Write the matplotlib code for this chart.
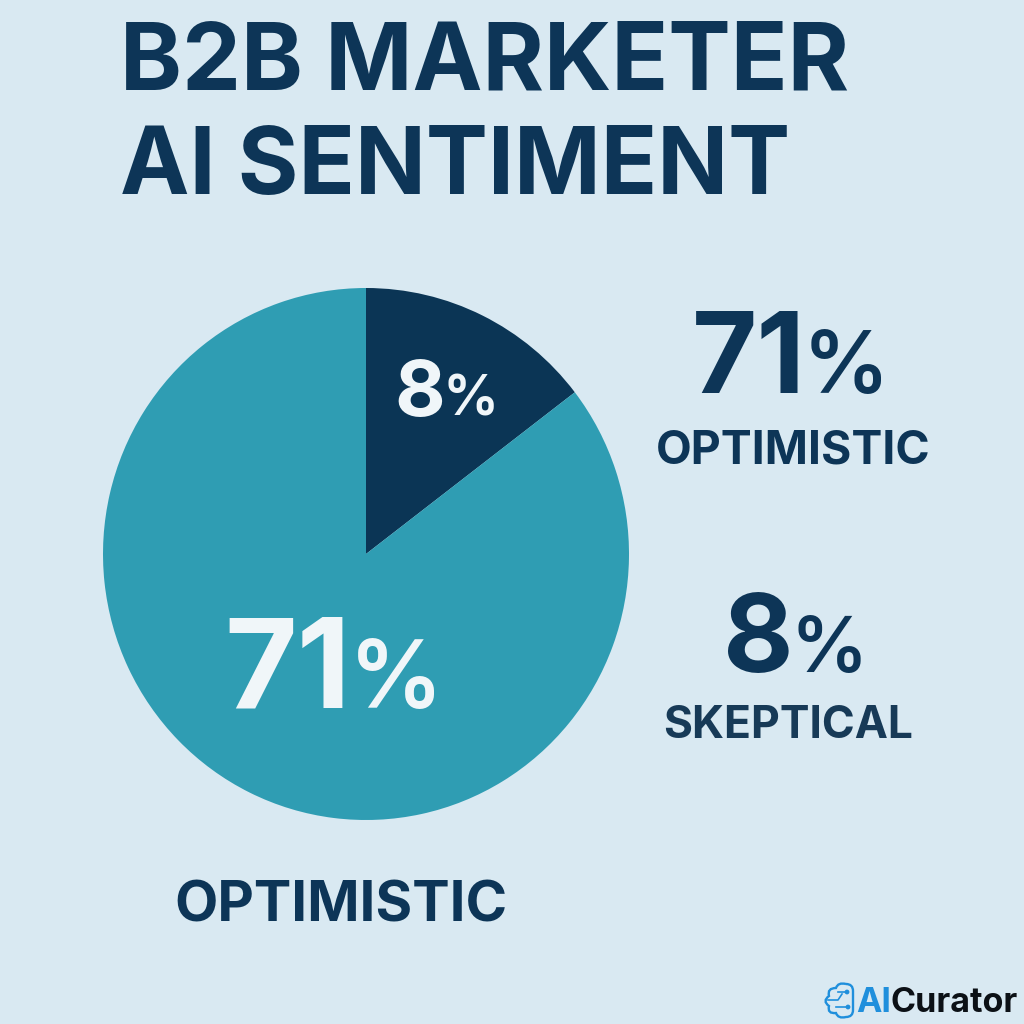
import matplotlib
matplotlib.use('Agg')
import matplotlib.pyplot as plt
from matplotlib.patches import Circle, PathPatch
from matplotlib.path import Path

title_lines = ['B2B MARKETER', 'AI SENTIMENT']
slice_names = ['SKEPTICAL', 'OPTIMISTIC']
slice_sizes = [14.6, 85.4]
slice_labels = ['8', '71']
slice_colors = ['#0b3555', '#2f9db3']

plt.rcParams['font.family'] = ['Inter', 'DejaVu Sans']
NAVY = '#0d3557'
BG = '#d9e9f2'
OFFWHITE = '#f0f6f9'
LOGO_BLUE = '#1f8fdc'

fig = plt.figure(figsize=(10.24, 10.24), dpi=100, facecolor=BG)

# overlay in pixel coords, y going down
bg = fig.add_axes([0, 0, 1, 1])
bg.set_xlim(0, 1024)
bg.set_ylim(1024, 0)
bg.axis('off')

bg.text(120, 90, title_lines[0], fontsize=67.5, fontweight='bold', color=NAVY, va='baseline', ha='left')
bg.text(120, 194, title_lines[1], fontsize=67, fontweight='bold', color=NAVY, va='baseline', ha='left')

# pie is a touch taller than wide in the reference
rx, ry = 263, 266
ax = fig.add_axes([(366 - rx) / 1024, (1024 - 554 - ry) / 1024, 2 * rx / 1024, 2 * ry / 1024])
ax.pie(slice_sizes, colors=slice_colors, startangle=90, counterclock=False, radius=1)
ax.set_aspect('auto')
ax.set_xlim(-1, 1)
ax.set_ylim(-1, 1)

top = fig.add_axes([0, 0, 1, 1])
top.set_xlim(0, 1024)
top.set_ylim(1024, 0)
top.axis('off')
top.patch.set_alpha(0)


def pct(x, x_sign, y, num, size, color, ratio):
    # number and a lighter, smaller percent sign on one baseline
    top.text(x, y, num, fontsize=size, fontweight='bold', color=color, va='baseline', ha='right')
    top.text(x_sign, y, '%', fontsize=size * ratio, fontweight='semibold', color=color, va='baseline', ha='left')


pct(445, 442, 416, slice_labels[0], 56, OFFWHITE, 0.72)
pct(351, 349, 708, slice_labels[1], 90, OFFWHITE, 0.75)
pct(806, 803, 393, slice_labels[1], 81, NAVY, 0.765)
pct(794, 790, 672, slice_labels[0], 78, NAVY, 0.71)

top.text(793.5, 463, slice_names[1], fontsize=33.4, fontweight='bold', color=NAVY, va='baseline', ha='center')
top.text(788.5, 738, slice_names[0], fontsize=32, fontweight='bold', color='#173a57', va='baseline', ha='center')
top.text(340.5, 922, slice_names[1], fontsize=40.5, fontweight='bold', color=NAVY, va='baseline', ha='center')

top.text(856, 1012, 'AI', fontsize=24.5, fontweight='bold', color=LOGO_BLUE, va='baseline', ha='left')
top.text(891, 1012, 'Curator', fontsize=24.5, fontweight='bold', color='#0c1116', va='baseline', ha='left')

# little brain icon next to the logo
outline = [(846, 984), (838, 982), (836, 988), (827, 988), (829, 996), (822, 1001),
           (829, 1006), (827, 1014), (836, 1013), (838, 1019), (846, 1017), (853, 1017),
           (853, 1010), (853, 1000), (853, 991), (853, 984), (846, 984)]
codes = [Path.MOVETO] + [Path.CURVE3] * (len(outline) - 1)
top.add_patch(PathPatch(Path(outline, codes), fill=False, ec=LOGO_BLUE, lw=1.7))
top.plot([828, 838, 842], [1000, 1000, 994], color=LOGO_BLUE, lw=1.2)
top.plot([836, 848], [1007, 1007], color=LOGO_BLUE, lw=1.2)
top.plot([838, 847], [992, 992], color=LOGO_BLUE, lw=1.2)
top.add_patch(Circle((847, 992), 1.7, color=LOGO_BLUE))
top.add_patch(Circle((848, 1007), 1.7, color=LOGO_BLUE))

fig.savefig('out.png', dpi=100, facecolor=BG)
